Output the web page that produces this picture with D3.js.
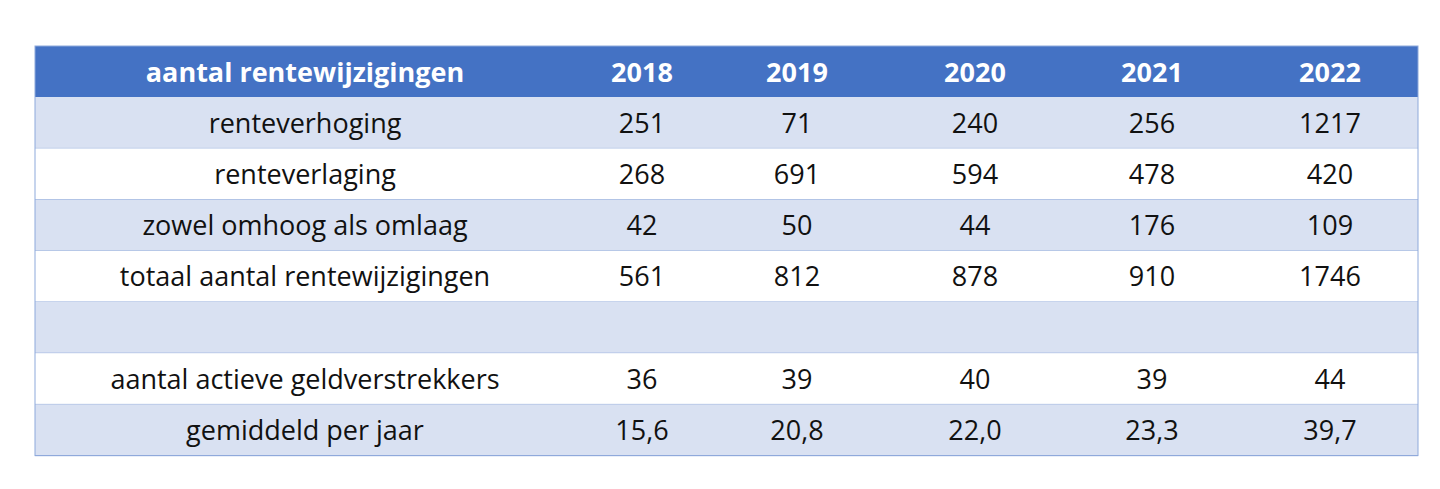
<!DOCTYPE html>
<html><head><meta charset="utf-8">
<script src="https://cdn.jsdelivr.net/npm/d3@7"></script>
<style>body{margin:0;background:#fff}</style>
</head><body><div id="container"></div>
<script>
const years = ["2018", "2019", "2020", "2021", "2022"];
const headerLabel = "aantal rentewijzigingen";
const rowLabels = ["renteverhoging", "renteverlaging", "zowel omhoog als omlaag",
  "totaal aantal rentewijzigingen", "", "aantal actieve geldverstrekkers", "gemiddeld per jaar"];
const rowValues = [
  ["251", "71", "240", "256", "1217"],
  ["268", "691", "594", "478", "420"],
  ["42", "50", "44", "176", "109"],
  ["561", "812", "878", "910", "1746"],
  ["", "", "", "", ""],
  ["36", "39", "40", "39", "44"],
  ["15,6", "20,8", "22,0", "23,3", "39,7"]
];

const width = 1440, height = 489;
const tableLeft = 35, tableRight = 1418, tableTop = 46, rowH = 51.2;
const colCenters = [305, 642, 797, 975, 1152, 1330];

const svg = d3.select("#container").append("svg")
  .attr("width", width).attr("height", height);

const y = d3.scaleBand()
  .domain(d3.range(rowLabels.length + 1))
  .range([tableTop, tableTop + rowH * (rowLabels.length + 1)]);

// header
svg.append("rect").attr("x", tableLeft).attr("y", y(0))
  .attr("width", tableRight - tableLeft).attr("height", y.bandwidth()).attr("fill", "#4472C4");
svg.selectAll("text.head")
  .data([headerLabel, ...years])
  .join("text").attr("class", "head")
  .attr("x", (d, i) => colCenters[i]).attr("y", y(0) + y.bandwidth() / 2 + 10)
  .attr("text-anchor", "middle").attr("fill", "#fff")
  .attr("font-family", "Open Sans, sans-serif").attr("font-weight", "bold")
  .attr("font-size", 27).text(d => d);

// body rows
const rows = svg.selectAll("g.row")
  .data(rowLabels.map((l, i) => ({ label: l, values: rowValues[i], i })))
  .join("g").attr("class", "row")
  .attr("transform", d => `translate(0,${y(d.i + 1)})`);

rows.append("rect").attr("x", tableLeft).attr("width", tableRight - tableLeft)
  .attr("height", y.bandwidth())
  .attr("fill", d => d.i % 2 === 0 ? "#D9E1F2" : "#fff");
rows.append("line").attr("x1", tableLeft).attr("x2", tableRight)
  .attr("y1", y.bandwidth()).attr("y2", y.bandwidth())
  .attr("stroke", "#8EA9DB").attr("stroke-width", 1);

rows.selectAll("text")
  .data(d => [d.label, ...d.values])
  .join("text")
  .attr("x", (d, i) => colCenters[i]).attr("y", y.bandwidth() / 2 + 10)
  .attr("text-anchor", "middle").attr("fill", "#111")
  .attr("font-family", "Open Sans, sans-serif").attr("font-size", 27)
  .text(d => d);

// outer border
svg.append("rect").attr("x", tableLeft).attr("y", tableTop)
  .attr("width", tableRight - tableLeft).attr("height", y.range()[1] - tableTop)
  .attr("fill", "none").attr("stroke", "#8EA9DB");
</script></body></html>
